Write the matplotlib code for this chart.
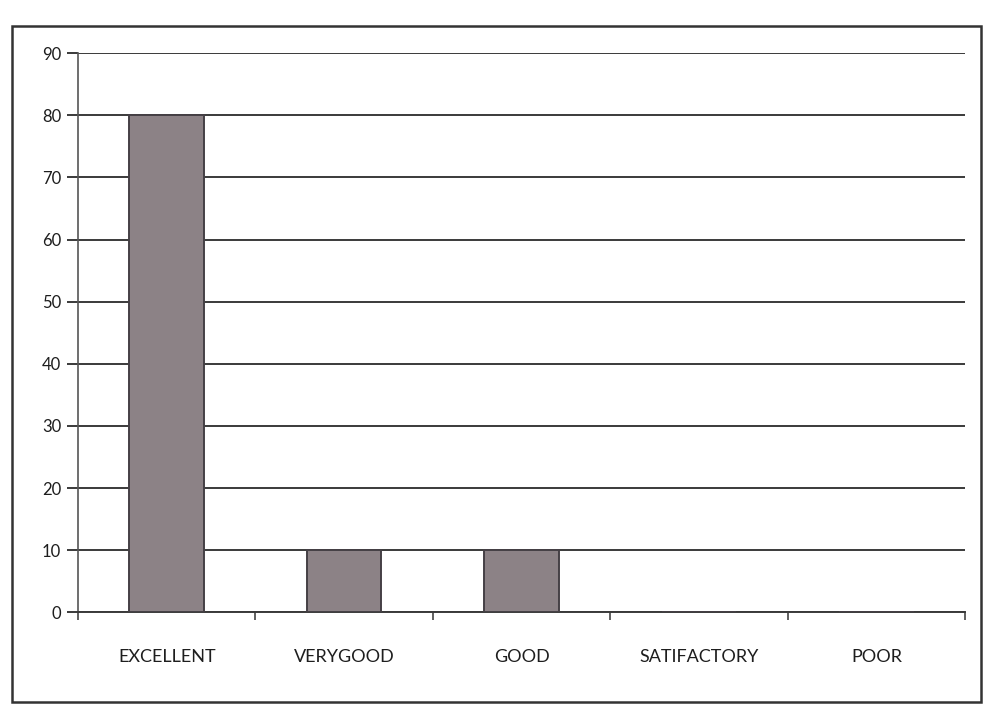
import numpy as np
import matplotlib.pyplot as plt
from matplotlib.patches import Rectangle

# data
categories = ["EXCELLENT", "VERYGOOD", "GOOD", "SATIFACTORY", "POOR"]
values = [80, 10, 10, 0, 0]
y_ticks = [0, 10, 20, 30, 40, 50, 60, 70, 80, 90]

plt.rcParams['font.family'] = ['Lato', 'DejaVu Sans']

fig = plt.figure(figsize=(9.87, 7.08), dpi=100)
ax = fig.add_axes([0.079, 0.135, 0.899, 0.79])

x = np.arange(len(categories))
ax.bar(x, values, width=0.42, color="#8c8286", edgecolor="#454045",
       linewidth=1.4, zorder=3)

ax.set_xlim(-0.5, len(categories) - 0.5)
ax.set_ylim(0, 90)
ax.set_yticks(y_ticks)
ax.yaxis.grid(True, color="#3a3a3a", linewidth=1.4, zorder=0)

ax.set_xticks(x)
ax.set_xticklabels(categories, fontsize=13, color="#1e1e1e")
ax.set_xticks(np.arange(-0.5, len(categories)), minor=True)
ax.tick_params(axis='x', which='major', length=0, pad=26)
ax.tick_params(axis='x', which='minor', length=6, width=1.2, color="#444444")
ax.tick_params(axis='y', length=8, width=1.4, color="#3a3a3a",
               labelsize=12, labelcolor="#1e1e1e", pad=4)

for s in ["top", "right"]:
    ax.spines[s].set_visible(False)
ax.spines["left"].set_color("#555555")
ax.spines["left"].set_linewidth(1.2)
ax.spines["bottom"].set_color("#3a3a3a")
ax.spines["bottom"].set_linewidth(1.4)

# outer chart frame
fig.patches.append(Rectangle((0.012, 0.008), 0.982, 0.955, transform=fig.transFigure,
                             fill=False, edgecolor="#333333", linewidth=1.8))

fig.savefig("out.png", dpi=100, facecolor="white")
